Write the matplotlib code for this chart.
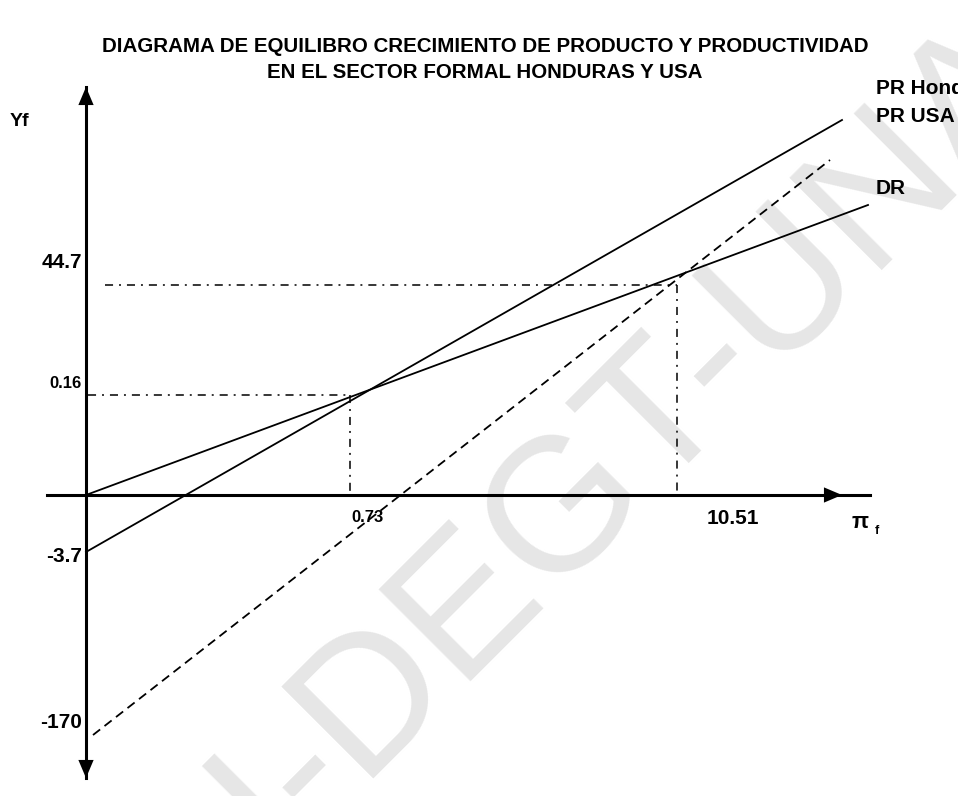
import matplotlib
matplotlib.use("Agg")
import matplotlib.pyplot as plt

plt.rcParams["font.family"] = ["Liberation Sans", "DejaVu Sans"]
plt.rcParams["lines.scale_dashes"] = False

# schematic diagram units: origin where the two axes cross
title_lines = ["DIAGRAMA DE EQUILIBRO CRECIMIENTO DE PRODUCTO Y PRODUCTIVIDAD",
               "EN EL SECTOR FORMAL HONDURAS Y USA"]

curve_names = ["PR Honduras", "PR USA", "DR"]
curve_x = [[0, 756], [7, 744], [0, 782]]
curve_y = [[-57, 375], [-240, 335], [0, 290]]
curve_styles = ["-", (0, (6.5, 4.0)), "-"]
curve_label_y = [407, 378, 307]

# equilibrium points (pi_f label, Yf label)
eq_x = [264, 591]
eq_y = [100, 210]
eq_hstart = [2, 19]
eq_xlabels = ["0.73", "10.51"]
eq_xlabel_pos = [282, 647]
eq_ylabels = ["0.16", "44.7"]
eq_ylabel_pos = [112, 233]
eq_fontsize = [12, 15]

# intercepts on the Yf axis
icpt_y = [-62, -227]
icpt_labels = ["-3.7", "-170"]

fig = plt.figure(figsize=(9.58, 7.96), dpi=100)
ax = fig.add_axes([0, 0, 1, 1])
ax.set_xlim(-86, 872)
ax.set_ylim(-301, 495)
ax.axis("off")

# watermark, behind everything
ax.text(0.530, 0.296, "UNAH-DEGT-UNAH", transform=fig.transFigure, rotation=45,
        rotation_mode="anchor", ha="center", va="center", fontsize=137,
        color="#e6e6e6", zorder=0)

# axes with arrows
ax.plot([0, 0], [-283, 408], color="black", lw=2.2, zorder=3)
ax.plot([-39, 784], [0, 0], color="black", lw=2.2, zorder=3)
arrow = dict(arrowstyle="-|>,head_length=1.3,head_width=0.55", color="black",
             lw=0, shrinkA=0, shrinkB=0, mutation_scale=10)
ax.annotate("", xy=(0, 408), xytext=(0, 380), arrowprops=arrow, zorder=4)
ax.annotate("", xy=(0, -283), xytext=(0, -255), arrowprops=arrow, zorder=4)
ax.annotate("", xy=(756, 0), xytext=(730, 0), arrowprops=arrow, zorder=4)

# curves
for name, xs, ys, ls, ly in zip(curve_names, curve_x, curve_y, curve_styles, curve_label_y):
    ax.plot(xs, ys, color="black", lw=1.3, linestyle=ls, zorder=2)
    ax.text(790, ly, name, ha="left", va="center", fontsize=15, fontweight="bold",
            zorder=5)

# equilibrium guides
dashdot = (0, (5.8, 4.3, 1.4, 4.3))
for x, y, h0, xl, xp, yl, yp, fs in zip(eq_x, eq_y, eq_hstart, eq_xlabels, eq_xlabel_pos,
                                         eq_ylabels, eq_ylabel_pos, eq_fontsize):
    ax.plot([h0, x], [y, y], color="black", lw=1.1, linestyle=dashdot, zorder=2)
    ax.plot([x, x], [y, 0], color="black", lw=1.1, linestyle=dashdot, zorder=2)
    ax.text(xp, -23, xl, ha="center", va="center", fontsize=fs, fontweight="bold", zorder=5)
    ax.text(-4, yp, yl, ha="right", va="center", fontsize=fs, fontweight="bold", zorder=5)

for y, lab in zip(icpt_y, icpt_labels):
    ax.text(-4, y, lab, ha="right", va="center", fontsize=15, fontweight="bold", zorder=5)

ax.text(-76, 374, "Yf", ha="left", va="center", fontsize=14, fontweight="bold", zorder=5)
ax.text(774, -27, "\u03c0", ha="center", va="center", fontsize=16, fontweight="bold", zorder=5)
ax.text(791, -36, "f", ha="center", va="center", fontsize=9, fontweight="bold", zorder=5)

for i, line in enumerate(title_lines):
    ax.text(399, 448 - 25 * i, line, ha="center", va="center", fontsize=14.8,
            fontweight="bold", zorder=5)

fig.savefig("out.png", dpi=100)
